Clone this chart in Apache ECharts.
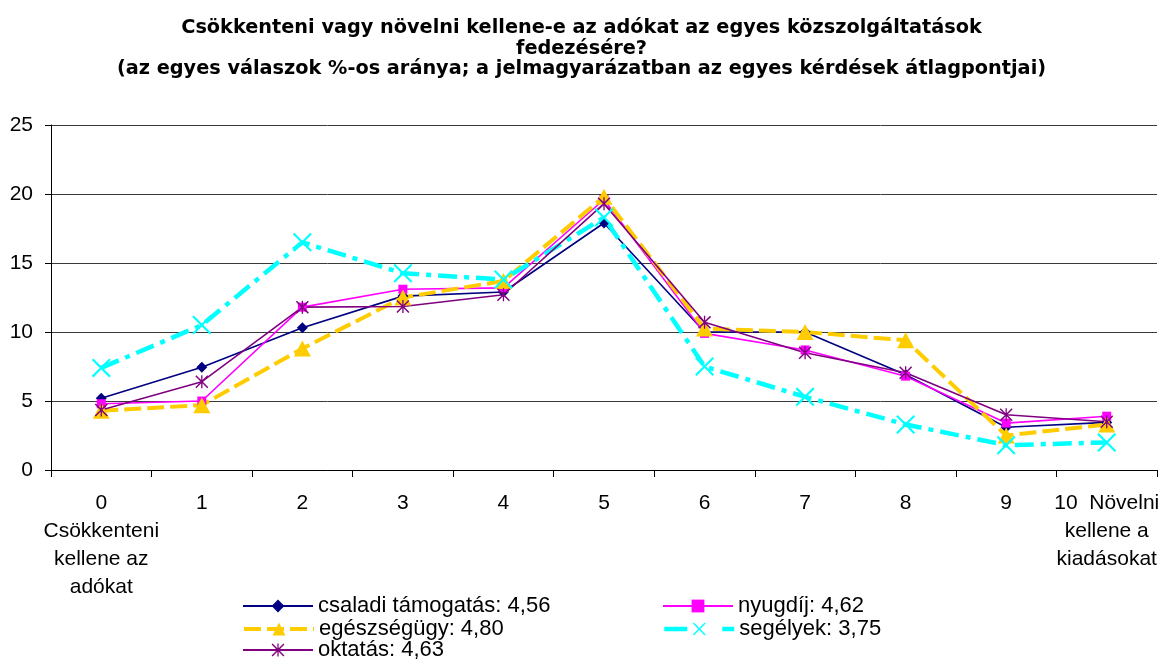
<!DOCTYPE html>
<html>
<head>
<meta charset="utf-8">
<script src="https://cdn.jsdelivr.net/npm/echarts@6/dist/echarts.min.js"></script>
<style>
html,body{margin:0;padding:0;background:#fff;}
#chart{width:1163px;height:659px;}
</style>
</head>
<body>
<div id="chart"></div>
<script>
// ---- data ----
const categories = ['0','1','2','3','4','5','6','7','8','9','10'];
const tickLabels = ['0\nCsökkenteni\nkellene az\nadókat','1','2','3','4','5','6','7','8','9','10  Növelni\nkellene a\nkiadásokat'];
const titleLines = [
  'Csökkenteni vagy növelni kellene-e az adókat az egyes közszolgáltatások',
  'fedezésére?',
  '(az egyes válaszok %-os aránya; a jelmagyarázatban az egyes kérdések átlagpontjai)'
];
const seriesNames = ['csaladi támogatás: 4,56','nyugdíj: 4,62','egészségügy: 4,80','segélyek: 3,75','oktatás: 4,63'];
const csaladi  = [5.2, 7.45, 10.3, 12.6, 12.9, 17.9, 10.0, 10.0, 6.9, 3.1, 3.45];
const nyugdij  = [4.8, 5.0, 11.8, 13.1, 13.2, 19.6, 9.9, 8.7, 6.8, 3.4, 3.9];
const egeszseg = [4.3, 4.7, 8.8, 12.5, 13.7, 19.8, 10.25, 10.0, 9.4, 2.5, 3.3];
const segelyek = [7.4, 10.5, 16.5, 14.25, 13.8, 18.3, 7.5, 5.3, 3.3, 1.8, 2.0];
const oktatas  = [4.35, 6.4, 11.8, 11.85, 12.7, 19.3, 10.7, 8.5, 7.05, 4.0, 3.5];
const yTicks = {min: 0, max: 25, interval: 5};

const FONT = 'Liberation Sans, Arial, sans-serif';
const TITLE_FONT = 'DejaVu Sans, Liberation Sans, sans-serif';
const X_PATH = 'path://M0,1.6 L1.6,0 L10,8.4 L18.4,0 L20,1.6 L11.6,10 L20,18.4 L18.4,20 L10,11.6 L1.6,20 L0,18.4 L8.4,10 Z';
const STAR_PATH = 'path://M0,1.6 L1.6,0 L10,8.4 L18.4,0 L20,1.6 L11.6,10 L20,18.4 L18.4,20 L10,11.6 L1.6,20 L0,18.4 L8.4,10 Z M9,0 L11,0 L11,20 L9,20 Z';

const chart = echarts.init(document.getElementById('chart'), null, {renderer: 'canvas'});

function legendAt(name, left, top, lineStyle) {
  const l = {
    data: [name], left: left, top: top, orient: 'horizontal', padding: 0,
    itemWidth: 70, itemHeight: 16, itemGap: 0,
    textStyle: {fontSize: 22, color: '#000', fontFamily: FONT},
    selectedMode: false
  };
  if (lineStyle) l.lineStyle = lineStyle;
  return l;
}
function titleAt(text, top) {
  return {
    text: text, left: 'center', top: top, padding: 0,
    textStyle: {fontSize: 19.3, fontWeight: 'bold', color: '#000', fontFamily: TITLE_FONT}
  };
}

const option = {
  backgroundColor: '#fff',
  animation: false,
  title: [titleAt(titleLines[0], 18), titleAt(titleLines[1], 39), titleAt(titleLines[2], 59)],
  legend: [
    legendAt(seriesNames[0], 242, 595),
    legendAt(seriesNames[2], 242, 618, {width: 4, type: [17, 6]}),
    legendAt(seriesNames[4], 242, 639),
    legendAt(seriesNames[1], 662, 595),
    legendAt(seriesNames[3], 662, 618, {width: 4.5, type: [23, 35, 12, 100]})
  ],
  grid: {left: 51, right: 6, top: 125, bottom: 189, containLabel: false},
  xAxis: {
    type: 'category', data: categories, boundaryGap: true,
    axisLine: {lineStyle: {color: '#000', width: 1}},
    axisTick: {show: true, interval: 0, length: 7, lineStyle: {color: '#000'}},
    axisLabel: {
      interval: 0, margin: 19, fontSize: 21, lineHeight: 28, color: '#000', fontFamily: FONT,
      formatter: function (v, i) { return tickLabels[i]; }
    },
    splitLine: {show: false}
  },
  yAxis: {
    type: 'value', min: yTicks.min, max: yTicks.max, interval: yTicks.interval,
    axisLine: {show: true, lineStyle: {color: '#000', width: 1}},
    axisTick: {show: true, length: 6, lineStyle: {color: '#000'}},
    axisLabel: {margin: 18, fontSize: 21, color: '#000', fontFamily: FONT},
    splitLine: {show: true, lineStyle: {color: '#3a3a3a', width: 1}}
  },
  series: [
    {
      name: seriesNames[0], type: 'line', data: csaladi,
      symbol: 'diamond', symbolSize: 11, showAllSymbol: true,
      lineStyle: {color: '#000080', width: 1.6},
      itemStyle: {color: '#000080'}
    },
    {
      name: seriesNames[1], type: 'line', data: nyugdij,
      symbol: 'rect', symbolSize: 9,
      lineStyle: {color: '#FF00FF', width: 1.6},
      itemStyle: {color: '#FF00FF'}
    },
    {
      name: seriesNames[2], type: 'line', data: egeszseg,
      symbol: 'triangle', symbolSize: [17, 16],
      lineStyle: {color: '#FFCC00', width: 4, type: [17, 6]},
      itemStyle: {color: '#FFCC00'}
    },
    {
      name: seriesNames[3], type: 'line', data: segelyek,
      symbol: X_PATH, symbolSize: 19,
      lineStyle: {color: '#00FFFF', width: 4.5, type: [19, 7, 5, 7]},
      itemStyle: {color: '#00FFFF'}
    },
    {
      name: seriesNames[4], type: 'line', data: oktatas,
      symbol: STAR_PATH, symbolSize: 13,
      lineStyle: {color: '#800080', width: 1.6},
      itemStyle: {color: '#800080'}
    }
  ]
};
chart.setOption(option);
</script>
</body>
</html>
